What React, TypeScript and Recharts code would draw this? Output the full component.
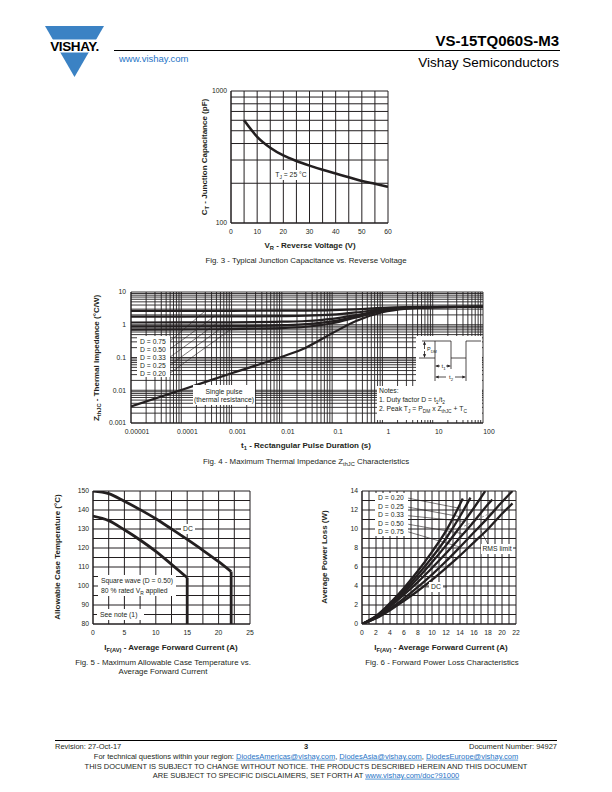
import React from "react";
import { LineChart, Line, XAxis, YAxis, CartesianGrid, ReferenceLine } from "recharts";

const FONT = '"Liberation Sans", Arial, Helvetica, sans-serif';
const INK = "#231f20";
const LINK = "#1f74c6";
const LOGO = "#3b82c4";

// Fig. 3 - junction capacitance vs reverse voltage
const capVoltage = [5, 10, 15, 20, 25, 30, 35, 40, 45, 50, 55, 60];
const capPicofarad = [600, 450, 372, 325, 295, 272, 253, 237, 222, 208, 198, 188];
const capXTicks = [0, 5, 10, 15, 20, 25, 30, 35, 40, 45, 50, 55, 60];
const capXLabels = [0, 10, 20, 30, 40, 50, 60];
const capYTicks = [100, 200, 300, 400, 500, 600, 700, 800, 900, 1000];
const capYLabels = [100, 1000];

// Fig. 4 - thermal impedance
const pulseTime = [0.00001, 0.0001, 0.001, 0.01, 0.03, 0.1, 0.3, 1, 3, 10, 100];
const zthD75 = [2.66, 2.66, 2.67, 2.69, 2.71, 2.79, 2.96, 3.26, 3.44, 3.51, 3.55];
const zthD50 = [1.78, 1.78, 1.79, 1.83, 1.88, 2.03, 2.38, 2.98, 3.33, 3.48, 3.55];
const zthD33 = [1.17, 1.18, 1.19, 1.24, 1.3, 1.51, 1.97, 2.78, 3.25, 3.45, 3.55];
const zthD25 = [0.89, 0.9, 0.91, 0.97, 1.04, 1.27, 1.79, 2.69, 3.21, 3.44, 3.55];
const zthD20 = [0.71, 0.72, 0.74, 0.79, 0.87, 1.11, 1.67, 2.63, 3.19, 3.43, 3.55];
const zthSingle = [0.0032, 0.0102, 0.033, 0.105, 0.2, 0.55, 1.3, 2.4, 3.1, 3.4, 3.55];
const zthDecadesX = [0.00001, 0.0001, 0.001, 0.01, 0.1, 1, 10, 100];
const zthDecadeXLabels = ["0.00001", "0.0001", "0.001", "0.01", "0.1", "1", "10", "100"];
const zthDecadesY = [0.001, 0.01, 0.1, 1, 10];
const zthDecadeYLabels = ["0.001", "0.01", "0.1", "1", "10"];
// leader lines from the D labels to their curves
const leaderStartTime = 0.00006;
const leaderStartZ = [0.319, 0.182, 0.1035, 0.059, 0.0336];
const leaderEndTime = [0.0003, 0.00045, 0.00054, 0.00071, 0.00098];
const leaderEndZ = [2.67, 1.785, 1.19, 0.91, 0.74];

// Fig. 5 - allowable case temperature
const caseCurrentDc = [0, 2.5, 5, 7.5, 10, 12.5, 15, 17.5, 20, 22];
const caseTempDc = [150, 148.6, 144.6, 140.2, 135.4, 130, 124.5, 118.8, 112.8, 107.6];
const caseCurrentSquare = [0, 2.5, 5, 7.5, 10, 12.5, 15];
const caseTempSquare = [136.8, 134.4, 129.6, 124.2, 118.2, 111.4, 104.4];
const caseFloor = 80;
const caseXTicks = [0, 2.5, 5, 7.5, 10, 12.5, 15, 17.5, 20, 22.5, 25];
const caseXLabels = [0, 5, 10, 15, 20, 25];
const caseYTicks = [80, 85, 90, 95, 100, 105, 110, 115, 120, 125, 130, 135, 140, 145, 150];
const caseYLabels = [80, 90, 100, 110, 120, 130, 140, 150];

// Fig. 6 - forward power loss
const lossI20 = [0, 2, 4, 6, 8, 10, 12, 14, 14.4];
const lossP20 = [0, 0.84, 2.2, 3.8, 5.6, 7.6, 9.8, 12.6, 13.2];
const lossI25 = [0, 2, 4, 6, 8, 10, 12, 14, 15.5];
const lossP25 = [0, 0.8, 2.08, 3.54, 5.2, 7.0, 9.0, 11.34, 13.3];
const lossI33 = [0, 2, 4, 6, 8, 10, 12, 14, 16, 17.6];
const lossP33 = [0, 0.76, 1.96, 3.33, 4.84, 6.5, 8.28, 10.22, 12.24, 14.0];
const lossI50 = [0, 2, 4, 6, 8, 10, 12, 14, 16, 18, 18.6];
const lossP50 = [0, 0.72, 1.84, 3.09, 4.44, 5.9, 7.44, 9.1, 10.8, 12.6, 13.1];
const lossI75 = [0, 2, 4, 6, 8, 10, 12, 14, 16, 18, 20, 21.5];
const lossP75 = [0, 0.64, 1.6, 2.7, 3.9, 5.2, 6.6, 8.1, 9.65, 11.2, 12.85, 14.0];
const lossIDc = [0, 2, 4, 6, 8, 10, 12, 14, 16, 18, 20, 21.5];
const lossPDc = [0, 0.6, 1.45, 2.45, 3.5, 4.65, 5.9, 7.2, 8.6, 10.0, 11.6, 12.7];
const lossXTicks = [0, 1, 2, 3, 4, 5, 6, 7, 8, 9, 10, 11, 12, 13, 14, 15, 16, 17, 18, 19, 20, 21, 22];
const lossXLabels = [0, 2, 4, 6, 8, 10, 12, 14, 16, 18, 20, 22];
const lossYTicks = [0, 1, 2, 3, 4, 5, 6, 7, 8, 9, 10, 11, 12, 13, 14];
const lossYLabels = [0, 2, 4, 6, 8, 10, 12, 14];
const lossLeaderStartI = 6.6;
const lossLeaderStartP = [13.25, 12.3, 11.4, 10.5, 9.7];
const lossLeaderEndI = [13.8, 14.0, 14.6, 14.5, 14.0];
const lossLeaderEndP = [12.2, 11.3, 10.8, 9.5, 8.1];

const tickStyle = { fontSize: 6.8, fill: INK, fontFamily: FONT };

const numLabel = (labels: number[]) => (v: number) =>
  labels.some((l) => Math.abs(l - v) < 1e-9) ? String(v) : "";

const decadeLabel = (decades: number[], labels: string[]) => (v: number) => {
  const i = decades.findIndex((d) => Math.abs(v - d) <= d * 1e-6);
  return i >= 0 ? labels[i] : "";
};

const logTicks = (decades: number[]) =>
  decades
    .slice(0, -1)
    .flatMap((d) => [1, 2, 3, 4, 5, 6, 7, 8, 9].map((m) => Number((m * d).toPrecision(6))))
    .concat(decades[decades.length - 1]);

const pairs = (xs: number[], ys: number[]) => xs.map((x, i) => ({ x, y: ys[i] }));

const axisCommon = {
  tickLine: false,
  tickSize: 0,
  interval: 0 as const,
  tick: tickStyle,
  axisLine: { stroke: INK },
  allowDataOverflow: true,
};

function CapacitanceChart() {
  const data = capVoltage.map((v, i) => ({ v, c: capPicofarad[i] }));
  return (
    <LineChart width={217} height={172} data={data} margin={{ top: 10, right: 10, bottom: 0, left: 0 }}>
      <CartesianGrid stroke={INK} strokeWidth={1} />
      <XAxis dataKey="v" type="number" domain={[0, 60]} ticks={capXTicks} tickFormatter={numLabel(capXLabels)} tickMargin={6} height={30} {...axisCommon} />
      <YAxis type="number" scale="log" domain={[100, 1000]} ticks={capYTicks} tickFormatter={numLabel(capYLabels)} tickMargin={4} width={50} {...axisCommon} />
      <Line dataKey="c" type="monotone" stroke={INK} strokeWidth={2.6} dot={false} isAnimationActive={false} />
    </LineChart>
  );
}

function ThermalChart() {
  const rows = pulseTime.map((t, i) => ({
    t,
    d75: zthD75[i],
    d50: zthD50[i],
    d33: zthD33[i],
    d25: zthD25[i],
    d20: zthD20[i],
    single: zthSingle[i],
  }));
  const keys = ["d75", "d50", "d33", "d25", "d20", "single"];
  return (
    <LineChart width={422} height={161} data={rows} margin={{ top: 10, right: 20, bottom: 0, left: 0 }}>
      <CartesianGrid stroke={INK} strokeWidth={0.9} />
      <XAxis dataKey="t" type="number" scale="log" domain={[0.00001, 100]} ticks={logTicks(zthDecadesX)} tickFormatter={decadeLabel(zthDecadesX, zthDecadeXLabels)} tickMargin={6} height={20} {...axisCommon} tick={{ ...tickStyle, dx: 6 }} />
      <YAxis type="number" scale="log" domain={[0.001, 10]} ticks={logTicks(zthDecadesY)} tickFormatter={decadeLabel(zthDecadesY, zthDecadeYLabels)} tickMargin={5} width={50} {...axisCommon} />
      {leaderStartZ.map((z, i) => (
        <ReferenceLine
          key={"ld" + i}
          segment={[
            { x: leaderStartTime, y: z },
            { x: leaderEndTime[i], y: leaderEndZ[i] },
          ]}
          stroke={INK}
          strokeWidth={0.6}
        />
      ))}
      {keys.map((k) => (
        <Line key={k} dataKey={k} type="monotone" stroke={INK} strokeWidth={2.2} dot={false} isAnimationActive={false} />
      ))}
    </LineChart>
  );
}

function CaseTempChart() {
  const dc = pairs(caseCurrentDc, caseTempDc);
  const square = pairs(caseCurrentSquare, caseTempSquare);
  const dcDrop = [dc[dc.length - 1], { x: caseCurrentDc[caseCurrentDc.length - 1], y: caseFloor }];
  const squareDrop = [square[square.length - 1], { x: caseCurrentSquare[caseCurrentSquare.length - 1], y: caseFloor }];
  return (
    <LineChart width={217} height={163} margin={{ top: 10, right: 10, bottom: 0, left: 0 }}>
      <CartesianGrid stroke={INK} strokeWidth={1} />
      <XAxis dataKey="x" type="number" domain={[0, 25]} ticks={caseXTicks} tickFormatter={numLabel(caseXLabels)} tickMargin={6} height={20} {...axisCommon} />
      <YAxis type="number" domain={[80, 150]} ticks={caseYTicks} tickFormatter={numLabel(caseYLabels)} tickMargin={4} width={50} {...axisCommon} />
      <Line data={dc} dataKey="y" type="monotone" stroke={INK} strokeWidth={2.8} dot={false} isAnimationActive={false} />
      <Line data={dcDrop} dataKey="y" type="linear" stroke={INK} strokeWidth={2.8} dot={false} isAnimationActive={false} />
      <Line data={square} dataKey="y" type="monotone" stroke={INK} strokeWidth={2.8} dot={false} isAnimationActive={false} />
      <Line data={squareDrop} dataKey="y" type="linear" stroke={INK} strokeWidth={2.8} dot={false} isAnimationActive={false} />
    </LineChart>
  );
}

function PowerLossChart() {
  const series = [
    pairs(lossI20, lossP20),
    pairs(lossI25, lossP25),
    pairs(lossI33, lossP33),
    pairs(lossI50, lossP50),
    pairs(lossI75, lossP75),
    pairs(lossIDc, lossPDc),
  ];
  return (
    <LineChart width={214} height={163} margin={{ top: 10, right: 10, bottom: 0, left: 0 }}>
      <CartesianGrid stroke={INK} strokeWidth={1} />
      <XAxis dataKey="x" type="number" domain={[0, 22]} ticks={lossXTicks} tickFormatter={numLabel(lossXLabels)} tickMargin={6} height={20} {...axisCommon} />
      <YAxis type="number" domain={[0, 14]} ticks={lossYTicks} tickFormatter={numLabel(lossYLabels)} tickMargin={4} width={50} {...axisCommon} />
      <ReferenceLine segment={[{ x: 14.6, y: 10.3 }, { x: 20, y: 12.3 }]} stroke="#9a9a9a" strokeWidth={1} strokeDasharray="2 2" />
      {lossLeaderStartP.map((p, i) => (
        <ReferenceLine
          key={"ll" + i}
          segment={[
            { x: lossLeaderStartI, y: p },
            { x: lossLeaderEndI[i], y: lossLeaderEndP[i] },
          ]}
          stroke={INK}
          strokeWidth={0.6}
        />
      ))}
      <ReferenceLine segment={[{ x: 17.0, y: 9.8 }, { x: 18.0, y: 8.4 }]} stroke={INK} strokeWidth={0.6} />
      {series.map((d, i) => (
        <Line key={"p" + i} data={d} dataKey="y" type="monotone" stroke={INK} strokeWidth={2.3} dot={false} isAnimationActive={false} />
      ))}
    </LineChart>
  );
}

function Sub({ base, sub, rest, size }: { base: string; sub: string; rest: string; size: number }) {
  const shift = size * 0.3;
  return (
    <>
      <tspan>{base}</tspan>
      <tspan fontSize={size * 0.72} dy={shift}>{sub}</tspan>
      <tspan dy={-shift}>{rest}</tspan>
    </>
  );
}

function PageOverlay() {
  const white = "#ffffff";
  const ann = 6.8;
  const dLabels = ["D = 0.75", "D = 0.50", "D = 0.33", "D = 0.25", "D = 0.20"];
  const dLabels6 = ["D = 0.20", "D = 0.25", "D = 0.33", "D = 0.50", "D = 0.75"];
  return (
    <svg width={612} height={792} style={{ position: "absolute", left: 0, top: 0 }} fontFamily={FONT} fill={INK}>
      <defs>
        <marker id="ah" viewBox="0 0 6 6" refX="6" refY="3" markerWidth="4" markerHeight="4" orient="auto-start-reverse">
          <path d="M0,0 L6,3 L0,6 z" fill={INK} />
        </marker>
      </defs>

      {/* header */}
      <polygon points="45,26 104,26 74.5,77" fill={LOGO} />
      <rect x={40} y={39.5} width={70} height={13} fill={white} />
      <text x={74.5} y={51.2} fontSize={13.5} fontWeight="bold" textAnchor="middle" fill="#000" letterSpacing={-0.4}>VISHAY.</text>
      <line x1={114} x2={560} y1={50.5} y2={50.5} stroke="#000" strokeWidth={1.2} />
      <text x={119} y={61.5} fontSize={9.5} fill={LINK}>www.vishay.com</text>
      <text x={559} y={46} fontSize={15} fontWeight="bold" textAnchor="end" fill="#000">VS-15TQ060S-M3</text>
      <text x={559} y={67} fontSize={13.5} textAnchor="end" fill="#000">Vishay Semiconductors</text>

      {/* Fig. 3 */}
      <rect x={276} y={170} width={31} height={10} fill={white} />
      <text x={291} y={177.4} fontSize={ann} textAnchor="middle">
        <Sub base="T" sub="J" rest=" = 25 °C" size={ann} />
      </text>
      <text x={207} y={157} fontSize={8} fontWeight="bold" textAnchor="middle" transform="rotate(-90 207 157)">
        <Sub base="C" sub="T" rest=" - Junction Capacitance (pF)" size={8} />
      </text>
      <text x={310} y={248} fontSize={8} fontWeight="bold" textAnchor="middle">
        <Sub base="V" sub="R" rest=" - Reverse Voltage (V)" size={8} />
      </text>
      <text x={306} y={263} fontSize={7.9} textAnchor="middle">Fig. 3 - Typical Junction Capacitance vs. Reverse Voltage</text>

      {/* Fig. 4 */}
      <rect x={137} y={336} width={33} height={41} fill={white} />
      {dLabels.map((t, i) => (
        <text key={t} x={140} y={343.5 + i * 8} fontSize={ann}>{t}</text>
      ))}
      <rect x={193} y={385} width={62} height={20} fill={white} />
      <text x={224} y={393.5} fontSize={ann} textAnchor="middle">Single pulse</text>
      <text x={224} y={402.3} fontSize={ann} textAnchor="middle">(thermal resistance)</text>
      <rect x={416} y={336} width={66} height={52} fill={white} />
      <rect x={377} y={386} width={105} height={34} fill={white} />
      <g stroke={INK} strokeWidth={0.8} fill="none">
        <polyline points="419,358 435,358 435,341 451,341 451,358 466,358 466,341 481,341" />
        <line x1={422} x2={435} y1={341} y2={341} />
        <line x1={424.5} x2={424.5} y1={349} y2={341.5} markerEnd="url(#ah)" />
        <line x1={424.5} x2={424.5} y1={351} y2={357.5} markerEnd="url(#ah)" />
        <line x1={435} x2={435} y1={358} y2={381} />
        <line x1={451} x2={451} y1={358} y2={369} />
        <line x1={466} x2={466} y1={358} y2={381} />
        <line x1={440} x2={435.5} y1={366} y2={366} markerEnd="url(#ah)" />
        <line x1={446} x2={450.5} y1={366} y2={366} markerEnd="url(#ah)" />
        <line x1={446} x2={435.5} y1={377} y2={377} markerEnd="url(#ah)" />
        <line x1={455} x2={465.5} y1={377} y2={377} markerEnd="url(#ah)" />
      </g>
      <text x={427} y={351} fontSize={5.5}>
        <Sub base="P" sub="DM" rest="" size={5.5} />
      </text>
      <text x={441.5} y={368.2} fontSize={6}>
        <Sub base="t" sub="1" rest="" size={6} />
      </text>
      <text x={449} y={379.2} fontSize={6}>
        <Sub base="t" sub="2" rest="" size={6} />
      </text>
      <text x={379} y={392.5} fontSize={ann}>Notes:</text>
      <text x={379} y={401.5} fontSize={ann}>
        <Sub base="1. Duty factor D = t" sub="1" rest="/t" size={ann} />
        <tspan fontSize={ann * 0.72} dy={ann * 0.3}>2</tspan>
      </text>
      <text x={379} y={411} fontSize={ann}>
        <Sub base="2. Peak T" sub="J" rest=" = P" size={ann} />
        <Sub base="" sub="DM" rest=" x Z" size={ann} />
        <Sub base="" sub="thJC" rest=" + T" size={ann} />
        <tspan fontSize={ann * 0.72} dy={ann * 0.3}>C</tspan>
      </text>
      <text x={99} y={358} fontSize={8} fontWeight="bold" textAnchor="middle" transform="rotate(-90 99 358)">
        <Sub base="Z" sub="thJC" rest=" - Thermal Impedance (°C/W)" size={8} />
      </text>
      <text x={306} y={448} fontSize={8} fontWeight="bold" textAnchor="middle">
        <Sub base="t" sub="1" rest=" - Rectangular Pulse Duration (s)" size={8} />
      </text>
      <text x={306} y={464} fontSize={7.9} textAnchor="middle">
        <Sub base="Fig. 4 - Maximum Thermal Impedance Z" sub="thJC" rest=" Characteristics" size={7.9} />
      </text>

      {/* Fig. 5 */}
      <rect x={181} y={524} width={14} height={10} fill={white} />
      <text x={188} y={531.4} fontSize={ann} textAnchor="middle">DC</text>
      <line x1={176} x2={181} y1={529} y2={529} stroke={INK} strokeWidth={0.6} />
      <rect x={98} y={575} width={78} height={21} fill={white} />
      <text x={101} y={583} fontSize={ann}>Square wave (D = 0.50)</text>
      <text x={101} y={592.5} fontSize={ann}>
        <Sub base="80 % rated V" sub="R" rest=" applied" size={ann} />
      </text>
      <rect x={97} y={609} width={47} height={11} fill={white} />
      <text x={100} y={617.4} fontSize={ann}>See note (1)</text>
      <text x={60} y={557} fontSize={8} fontWeight="bold" textAnchor="middle" transform="rotate(-90 60 557)">Allowable Case Temperature (°C)</text>
      <text x={171} y={650} fontSize={8} fontWeight="bold" textAnchor="middle">
        <Sub base="I" sub="F(AV)" rest=" - Average Forward Current (A)" size={8} />
      </text>
      <text x={163} y={665} fontSize={7.9} textAnchor="middle">Fig. 5 - Maximum Allowable Case Temperature vs.</text>
      <text x={163} y={674} fontSize={7.9} textAnchor="middle">Average Forward Current</text>

      {/* Fig. 6 */}
      <rect x={375} y={493} width={33} height={43} fill={white} />
      {dLabels6.map((t, i) => (
        <text key={t} x={378} y={500.4 + i * 8.5} fontSize={ann}>{t}</text>
      ))}
      <rect x={481} y={544} width={32} height={10} fill={white} />
      <text x={497} y={551.4} fontSize={ann} textAnchor="middle">RMS limit</text>
      <rect x={429} y={582} width={14} height={10} fill={white} />
      <text x={436} y={589.4} fontSize={ann} textAnchor="middle">DC</text>
      <line x1={425} x2={429} y1={587} y2={587} stroke={INK} strokeWidth={0.6} />
      <line x1={443} x2={447} y1={587} y2={587} stroke={INK} strokeWidth={0.6} />
      <text x={327} y={557} fontSize={8} fontWeight="bold" textAnchor="middle" transform="rotate(-90 327 557)">Average Power Loss (W)</text>
      <text x={441} y={650} fontSize={8} fontWeight="bold" textAnchor="middle">
        <Sub base="I" sub="F(AV)" rest=" - Average Forward Current (A)" size={8} />
      </text>
      <text x={442} y={665} fontSize={7.9} textAnchor="middle">Fig. 6 - Forward Power Loss Characteristics</text>

      {/* footer */}
      <line x1={55} x2={557} y1={740.5} y2={740.5} stroke="#000" strokeWidth={1} />
      <text x={55} y={748.7} fontSize={7.5}>Revision: 27-Oct-17</text>
      <text x={306} y={749} fontSize={7.5} fontWeight="bold" textAnchor="middle">3</text>
      <text x={557} y={748.7} fontSize={7.5} textAnchor="end">Document Number: 94927</text>
      <text x={306} y={758.7} fontSize={7.5} textAnchor="middle">
        <tspan>For technical questions within your region: </tspan>
        <tspan fill={LINK} textDecoration="underline">DiodesAmericas@vishay.com</tspan>
        <tspan>, </tspan>
        <tspan fill={LINK} textDecoration="underline">DiodesAsia@vishay.com</tspan>
        <tspan>, </tspan>
        <tspan fill={LINK} textDecoration="underline">DiodesEurope@vishay.com</tspan>
      </text>
      <text x={306} y={768.7} fontSize={7.5} textAnchor="middle">
        THIS DOCUMENT IS SUBJECT TO CHANGE WITHOUT NOTICE. THE PRODUCTS DESCRIBED HEREIN AND THIS DOCUMENT
      </text>
      <text x={306} y={777.7} fontSize={7.5} textAnchor="middle">
        <tspan>ARE SUBJECT TO SPECIFIC DISCLAIMERS, SET FORTH AT </tspan>
        <tspan fill={LINK} textDecoration="underline">www.vishay.com/doc?91000</tspan>
      </text>
    </svg>
  );
}

export default function App() {
  return (
    <div style={{ position: "absolute", left: 0, top: 0, width: 612, height: 792, background: "#fff", overflow: "hidden" }}>
      <div style={{ position: "absolute", left: 181, top: 81 }}>
        <CapacitanceChart />
      </div>
      <div style={{ position: "absolute", left: 81, top: 282 }}>
        <ThermalChart />
      </div>
      <div style={{ position: "absolute", left: 43, top: 481 }}>
        <CaseTempChart />
      </div>
      <div style={{ position: "absolute", left: 312, top: 481 }}>
        <PowerLossChart />
      </div>
      <PageOverlay />
    </div>
  );
}
